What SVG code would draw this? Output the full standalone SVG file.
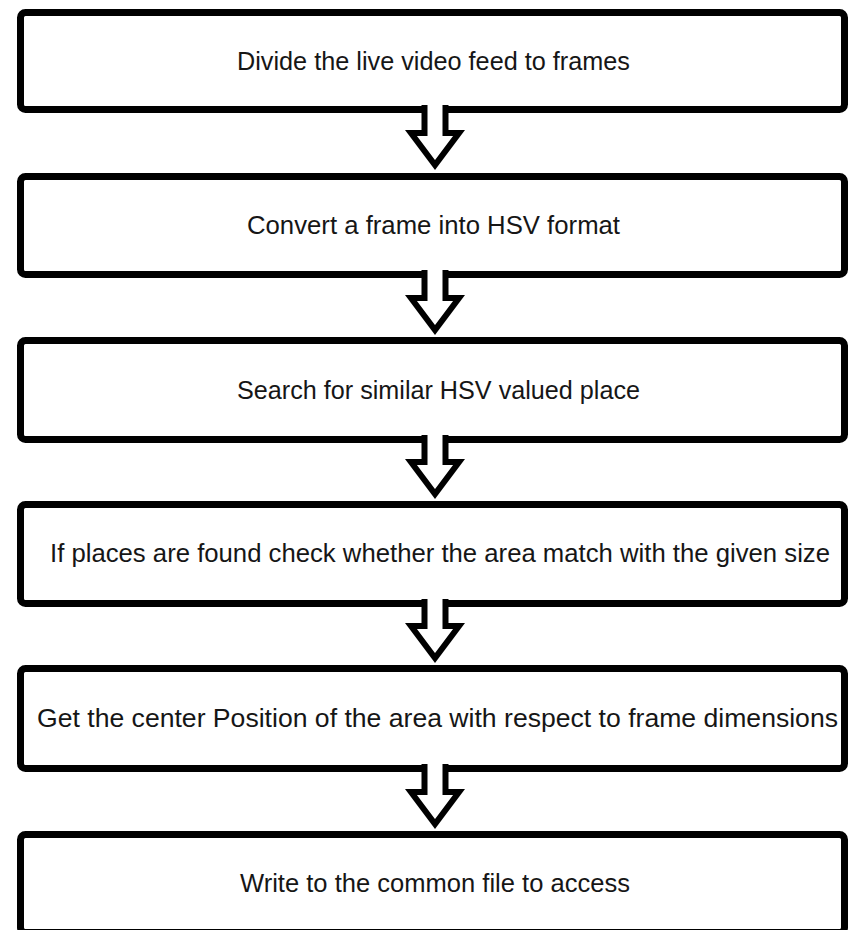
<svg xmlns="http://www.w3.org/2000/svg" width="851" height="930" viewBox="0 0 851 930">
<style>
.box{fill:#fff;stroke:#000;stroke-width:7}
.arr{fill:#fff;stroke:#000;stroke-width:6;stroke-linejoin:miter;stroke-miterlimit:10}
.t{font-family:"Liberation Sans",Arial,sans-serif;font-size:25px;fill:#161616;text-anchor:middle}
</style>
<rect width="851" height="930" fill="#fff"/>
<g id="n1"><rect class="box" x="20.5" y="12.5" width="824" height="97" rx="5"/><text class="t" x="433.5" y="70" textLength="393" lengthAdjust="spacingAndGlyphs">Divide the live video feed to frames</text></g>
<g id="n2"><rect class="box" x="20.5" y="176.5" width="824" height="98" rx="5"/><text class="t" x="433.5" y="234" textLength="373" lengthAdjust="spacingAndGlyphs">Convert a frame into HSV format</text></g>
<g id="n3"><rect class="box" x="20.5" y="340.5" width="824" height="99" rx="5"/><text class="t" x="438.5" y="399" textLength="403" lengthAdjust="spacingAndGlyphs">Search for similar HSV valued place</text></g>
<g id="n4"><rect class="box" x="20.5" y="504.5" width="824" height="99" rx="5"/><text class="t" x="440" y="562" textLength="780" lengthAdjust="spacingAndGlyphs">If places are found check whether the area match with the given size</text></g>
<g id="n5"><rect class="box" x="20.5" y="668.5" width="824" height="100" rx="5"/><text class="t" x="437.5" y="727" textLength="801" lengthAdjust="spacingAndGlyphs">Get the center Position of the area with respect to frame dimensions</text></g>
<g id="n6"><rect class="box" x="20.5" y="834.5" width="824" height="98" rx="5"/><text class="t" x="435" y="892" textLength="390" lengthAdjust="spacingAndGlyphs">Write to the common file to access</text></g>
<g id="connectors">
<path class="arr" d="M424.5,105 V133 H411 L435,165 L459,133 H445.5 V105"/>
<path class="arr" d="M424.5,270 V298 H411 L435,330 L459,298 H445.5 V270"/>
<path class="arr" d="M424.5,435 V462 H411 L435,494 L459,462 H445.5 V435"/>
<path class="arr" d="M424.5,599 V626 H411 L435,658 L459,626 H445.5 V599"/>
<path class="arr" d="M424.5,764 V792 H411 L435,824 L459,792 H445.5 V764"/>
</g>
</svg>
